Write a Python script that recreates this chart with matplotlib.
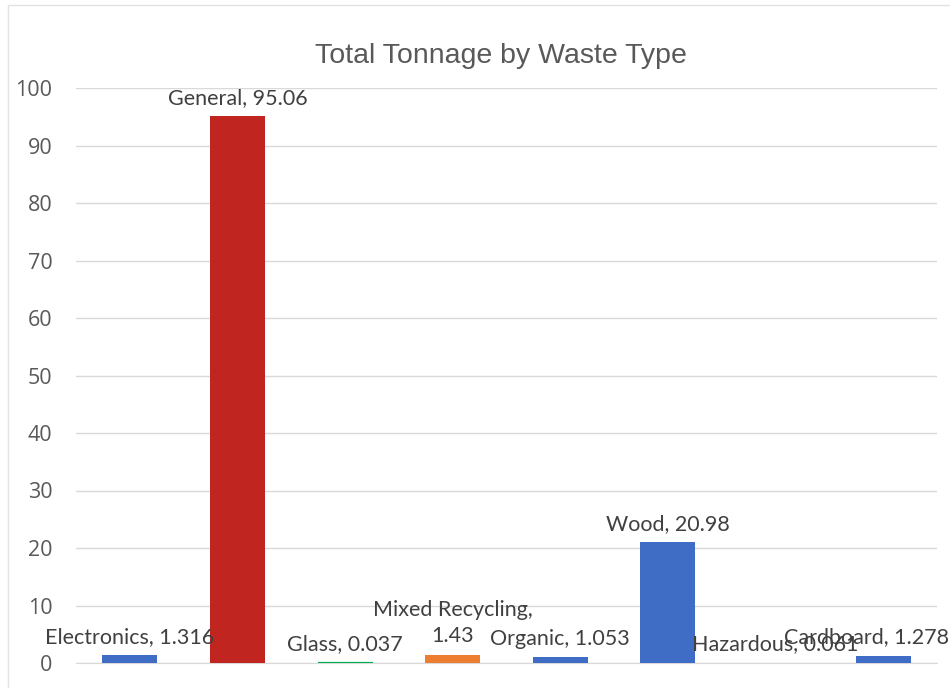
import matplotlib
matplotlib.use("Agg")
import matplotlib.pyplot as plt
from matplotlib.patches import Rectangle

categories = ["Electronics", "General", "Glass", "Mixed Recycling", "Organic",
              "Wood", "Hazardous", "Cardboard"]
tonnage = [1.316, 95.06, 0.037, 1.43, 1.053, 20.98, 0.061, 1.278]
value_text = ["1.316", "95.06", "0.037", "1.43", "1.053", "20.98", "0.061", "1.278"]
colors = ["#3F6DC5", "#C0261F", "#00B050", "#ED7D31", "#3F6DC5",
          "#3F6DC5", "#FFC000", "#3F6DC5"]
yticks = [0, 10, 20, 30, 40, 50, 60, 70, 80, 90, 100]

# tiny bars get a thin outline so they stay visible (like Excel does for Glass)
edge_w = [0, 0, 1.6, 0, 0, 0, 0, 0]
# Excel nudged the last label left to keep it inside the chart
label_dx = [0, 0, 0, 0, 0, 0, 0, -12]

fig = plt.figure(figsize=(9.5, 6.88), dpi=100)
ax = fig.add_axes([76 / 950, 1 - 663 / 688, (937 - 76) / 950, (663 - 88) / 688])

# chart border (light grey frame, cut at right/bottom)
fig.patches.append(Rectangle((8 / 950, -0.1), 1.2, 1 - 5 / 688 + 0.1,
                             transform=fig.transFigure, fill=False,
                             edgecolor="#E3E3E3", lw=1))

x = range(len(categories))
ax.bar(x, tonnage, width=0.51, color=colors, edgecolor=colors,
       linewidth=edge_w, zorder=3)

ax.set_xlim(-0.5, len(categories) - 0.5)
ax.set_ylim(0, 100)
ax.set_yticks(yticks)
ax.set_xticks([])
ax.yaxis.grid(True, color="#D9D9D9", lw=1, zorder=0)
for s in ["top", "right", "left"]:
    ax.spines[s].set_visible(False)
ax.spines["bottom"].set_color("#D9D9D9")
ax.tick_params(axis="y", length=0, pad=17, labelsize=15.5, labelcolor="#595959")
for lab in ax.get_yticklabels():
    lab.set_family("Open Sans")

ax.set_title("Total Tonnage by Waste Type", fontsize=20.5, color="#595959",
             family="Liberation Sans", pad=18, x=0.493)

for i, (cat, val, txt) in enumerate(zip(categories, tonnage, value_text)):
    label = cat + ", " + txt
    if cat == "Mixed Recycling":
        label = cat + ",\n" + txt
    ax.annotate(label, (i, val), xytext=(label_dx[i], 6), textcoords="offset points",
                ha="center", va="bottom", fontsize=15.5, color="#404040",
                family="Lato", linespacing=1.4, zorder=4,
                annotation_clip=False)

fig.savefig("out.png", dpi=100)
